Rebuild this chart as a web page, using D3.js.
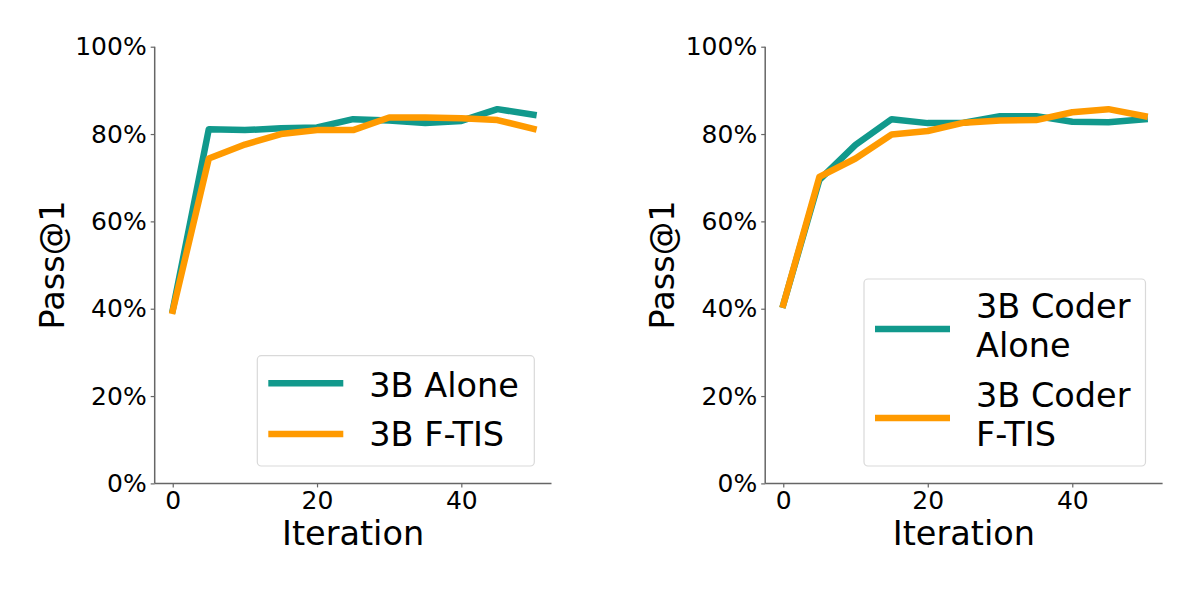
<!DOCTYPE html>
<html>
<head>
<meta charset="utf-8">
<script src="https://cdn.jsdelivr.net/npm/d3@7"></script>
<style>
  body { margin: 0; background: #fff; }
  text { font-family: "DejaVu Sans", sans-serif; fill: #000; }
</style>
</head>
<body>
<div id="chart"></div>
<script>
// iterations on the x axis
const iterations = [0, 5, 10, 15, 20, 25, 30, 35, 40, 45, 50];

// left panel (3B)
const alone3B = [39.7, 81.1, 80.9, 81.3, 81.5, 83.4, 83.1, 82.5, 83.0, 85.7, 84.4];
const ftis3B  = [39.5, 74.4, 77.6, 80.0, 80.9, 80.9, 83.8, 83.8, 83.6, 83.2, 81.2];

// right panel (3B Coder)
const aloneCoder = [40.9, 69.5, 77.5, 83.4, 82.5, 82.6, 84.1, 84.1, 82.8, 82.7, 83.4];
const ftisCoder  = [40.9, 70.2, 74.4, 79.9, 80.7, 82.6, 83.1, 83.2, 85.0, 85.7, 84.1];

const yTicks = [0, 20, 40, 60, 80, 100];
const xTicks = [0, 20, 40];

const teal = "#11998c";
const orange = "#ff9a00";

const svg = d3.select("#chart")
    .append("svg")
    .attr("width", 1200)
    .attr("height", 589);

svg.append("rect")
    .attr("width", 1200)
    .attr("height", 589)
    .attr("fill", "#fff");

function drawPanel(p) {

    const x = d3.scaleLinear()
        .domain([-2.5, 52.5])
        .range([p.left, p.right]);

    const y = d3.scaleLinear()
        .domain([0, 100])
        .range([483.4, 46.7]);

    // Add Y axis
    const yAxis = svg.append("g")
        .attr("transform", `translate(${p.left}, 0)`)
        .call(d3.axisLeft(y).tickValues(yTicks).tickSize(4).tickPadding(4)
            .tickFormat(d => d + "%"));

    // Add X axis
    const xAxis = svg.append("g")
        .attr("transform", "translate(0,483.4)")
        .call(d3.axisBottom(x).tickValues(xTicks).tickSize(4).tickPadding(4));

    [yAxis, xAxis].forEach(ax => {
        ax.select(".domain").attr("stroke", "#666").attr("stroke-width", 1.5);
        ax.selectAll(".tick line").attr("stroke", "#666").attr("stroke-width", 1.2);
        ax.selectAll(".tick text")
            .style("font-family", "DejaVu Sans")
            .style("font-size", "25px")
            .attr("fill", "#000");
    });
    xAxis.select(".domain").attr("d", `M${p.left},0H${p.right}`);
    yAxis.select(".domain").attr("d", `M0,483.4V46.7`);

    // axis labels
    svg.append("text")
        .attr("x", (p.left + p.right) / 2)
        .attr("y", 545)
        .attr("text-anchor", "middle")
        .style("font-size", "33.5px")
        .text("Iteration");

    svg.append("text")
        .attr("transform", `translate(${p.left - 91}, 265) rotate(-90)`)
        .attr("text-anchor", "middle")
        .style("font-size", "33.5px")
        .text("Pass@1");

    const line = d3.line()
        .x((d, i) => x(iterations[i]))
        .y(d => y(d));

    p.series.forEach(s => {
        svg.append("path")
            .datum(s.values)
            .attr("d", line)
            .attr("fill", "none")
            .attr("stroke", s.color)
            .attr("stroke-width", 6.5)
            .attr("stroke-linejoin", "round")
            .attr("stroke-linecap", "square");
    });

    // legend
    const lg = p.legend;
    svg.append("rect")
        .attr("x", lg.x0)
        .attr("y", lg.y0)
        .attr("width", lg.x1 - lg.x0)
        .attr("height", lg.y1 - lg.y0)
        .attr("rx", 4)
        .attr("fill", "#fff")
        .attr("fill-opacity", 0.8)
        .attr("stroke", "#d9d9d9")
        .attr("stroke-width", 1.2);

    p.series.forEach((s, i) => {
        const e = lg.entries[i];
        svg.append("line")
            .attr("x1", lg.x0 + 11)
            .attr("x2", lg.x0 + 86)
            .attr("y1", e.lineY)
            .attr("y2", e.lineY)
            .attr("stroke", s.color)
            .attr("stroke-width", 6.5);
        s.label.forEach((t, j) => {
            svg.append("text")
                .attr("x", lg.x0 + 112)
                .attr("y", e.baseY + j * 39)
                .style("font-size", "33.5px")
                .text(t);
        });
    });
}

drawPanel({
    left: 154.7,
    right: 551.5,
    series: [
        { values: alone3B, color: teal, label: ["3B Alone"] },
        { values: ftis3B, color: orange, label: ["3B F-TIS"] }
    ],
    legend: {
        x0: 257.3, x1: 534.3, y0: 355.7, y1: 466,
        entries: [{ lineY: 383.3, baseY: 396.7 }, { lineY: 434, baseY: 446 }]
    }
});

drawPanel({
    left: 765.2,
    right: 1162.6,
    series: [
        { values: aloneCoder, color: teal, label: ["3B Coder", "Alone"] },
        { values: ftisCoder, color: orange, label: ["3B Coder", "F-TIS"] }
    ],
    legend: {
        x0: 864, x1: 1145.5, y0: 279, y1: 466,
        entries: [{ lineY: 329, baseY: 318 }, { lineY: 418, baseY: 406.7 }]
    }
});
</script>
</body>
</html>
